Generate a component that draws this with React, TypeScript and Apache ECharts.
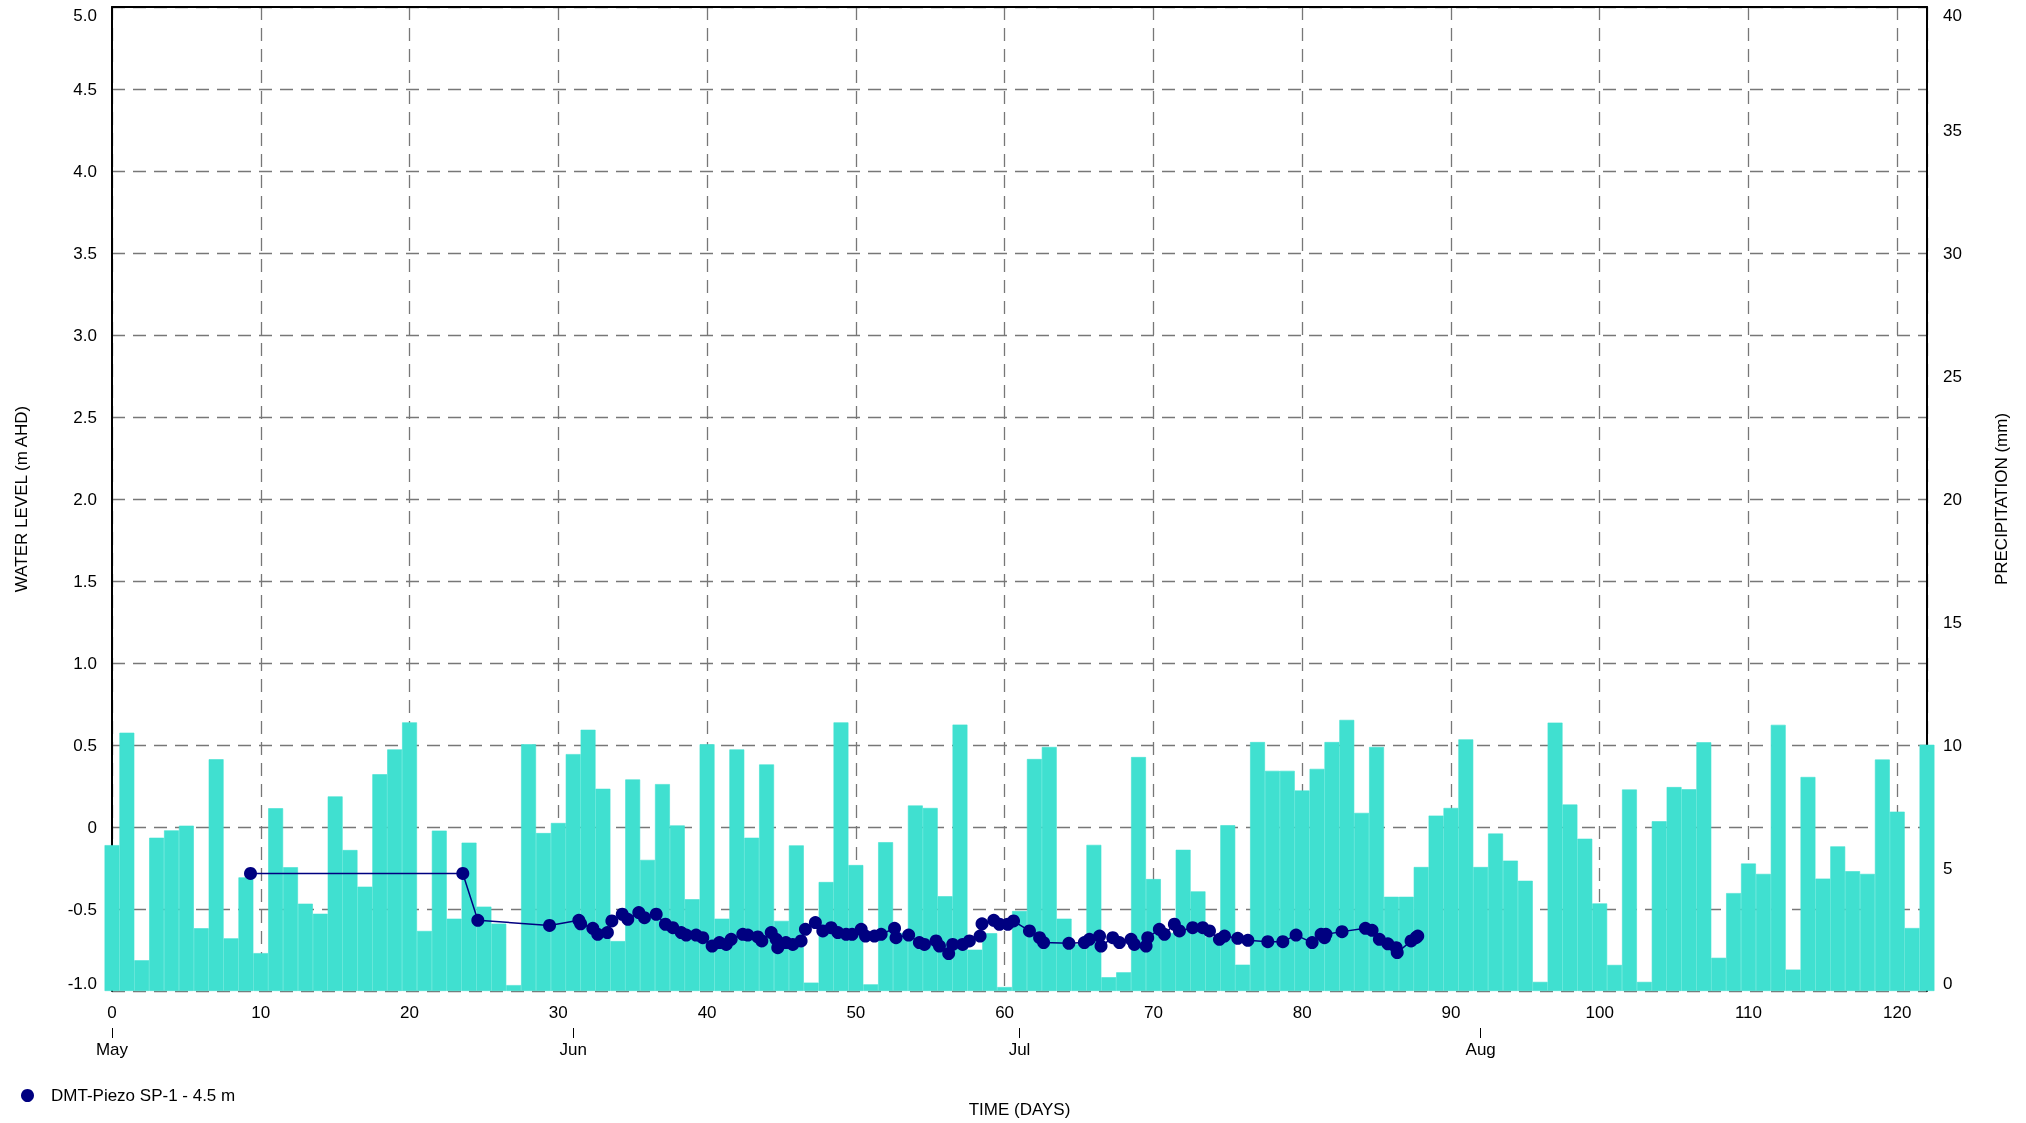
import React, { useEffect, useRef } from 'react';
import * as echarts from 'echarts';

const FONT = '"Liberation Sans", Arial, Helvetica, sans-serif';

// Daily precipitation (mm), one value per day starting at day 0 (1 May)
const precipitation = [
  5.93, 10.5, 1.25, 6.23, 6.53, 6.72, 2.55, 9.42, 2.14, 4.62,
  1.54, 7.43, 5.03, 3.55, 3.14, 7.91, 5.73, 4.24, 8.81, 9.82,
  10.92, 2.44, 6.52, 2.94, 6.03, 3.43, 2.74, 0.24, 10.03, 6.42,
  6.83, 9.63, 10.62, 8.22, 2.03, 8.6, 5.33, 8.41, 6.73, 3.73,
  10.03, 2.94, 9.82, 6.23, 9.21, 2.85, 5.92, 0.34, 4.43, 10.92,
  5.12, 0.27, 6.05, 2.36, 7.54, 7.44, 3.85, 10.83, 1.68, 2.35,
  0.16, 3.25, 9.43, 9.92, 2.94, 1.9, 5.94, 0.56, 0.76, 9.51,
  4.55, 2.36, 5.74, 4.05, 2.2, 6.74, 1.07, 10.12, 8.95, 8.95,
  8.15, 9.03, 10.12, 11.02, 7.24, 9.92, 3.83, 3.83, 5.04, 7.13,
  7.44, 10.23, 5.04, 6.4, 5.3, 4.48, 0.37, 10.91, 7.58, 6.19,
  3.56, 1.06, 8.19, 0.37, 6.9, 8.29, 8.2, 10.11, 1.35, 3.98,
  5.18, 4.76, 10.82, 0.87, 8.7, 4.57, 5.88, 4.87, 4.76, 9.41,
  7.29, 2.56, 10.01,
];

// Water level readings: time (days) and level (m AHD)
const waterLevelDays = [
  9.31, 23.58, 24.59, 29.41, 31.38, 31.5, 32.32, 32.65, 33.3, 33.6,
  34.3, 34.67, 35.41, 35.79, 36.58, 37.2, 37.7, 38.26, 38.6, 39.26,
  39.71, 40.34, 40.83, 41.29, 41.62, 42.4, 42.74, 43.41, 43.68, 44.31,
  44.64, 44.75, 45.3, 45.76, 46.32, 46.61, 47.28, 47.78, 48.34, 48.79,
  49.35, 49.75, 50.36, 50.65, 51.25, 51.7, 52.6, 52.7, 53.55, 54.27,
  54.61, 55.39, 55.62, 56.24, 56.51, 57.18, 57.63, 58.35, 58.48, 59.27,
  59.65, 60.21, 60.6, 61.67, 62.35, 62.62, 64.32, 65.36, 65.7, 66.38,
  66.48, 67.27, 67.72, 68.5, 68.72, 69.51, 69.62, 70.4, 70.74, 71.41,
  71.75, 72.64, 73.32, 73.77, 74.44, 74.78, 75.67, 76.35, 77.69, 78.7,
  79.59, 80.67, 81.27, 81.5, 81.6, 82.68, 84.25, 84.7, 85.19, 85.76,
  86.32, 86.39, 87.32, 87.65, 87.77,
];
const waterLevels = [
  -0.283, -0.283, -0.569, -0.6, -0.569, -0.59, -0.618, -0.654, -0.644, -0.573,
  -0.532, -0.563, -0.522, -0.553, -0.532, -0.593, -0.614, -0.644, -0.659, -0.659,
  -0.675, -0.726, -0.705, -0.716, -0.685, -0.654, -0.659, -0.67, -0.695, -0.644,
  -0.685, -0.736, -0.705, -0.716, -0.695, -0.624, -0.583, -0.634, -0.614, -0.644,
  -0.654, -0.654, -0.624, -0.665, -0.665, -0.654, -0.618, -0.675, -0.659, -0.705,
  -0.716, -0.695, -0.726, -0.772, -0.716, -0.716, -0.695, -0.665, -0.59, -0.569,
  -0.593, -0.593, -0.573, -0.634, -0.675, -0.705, -0.709, -0.705, -0.685, -0.665,
  -0.726, -0.675, -0.705, -0.685, -0.716, -0.726, -0.675, -0.624, -0.654, -0.593,
  -0.634, -0.614, -0.614, -0.634, -0.685, -0.665, -0.679, -0.691, -0.699, -0.699,
  -0.659, -0.705, -0.654, -0.675, -0.654, -0.638, -0.618, -0.63, -0.685, -0.712,
  -0.736, -0.766, -0.695, -0.675, -0.665,
];

const monthNames = ['May', 'Jun', 'Jul', 'Aug'];
const monthStartDays = [0, 31, 61, 92];
const seriesName = 'DMT-Piezo SP-1 - 4.5 m';

const DAY_MIN = 0;
const DAY_MAX = 122;

export default function App() {
  const ref = useRef<HTMLDivElement>(null);

  useEffect(() => {
    if (!ref.current) return;
    const chart = echarts.init(ref.current, null, { renderer: 'svg' });
    const dayCategories = Array.from({ length: DAY_MAX - DAY_MIN + 1 }, (_, i) => String(DAY_MIN + i));

    const gridLine = { color: '#777777', width: 1.3, type: [13, 8] as number[] };
    const labelBase = { fontSize: 17, color: '#000', fontFamily: FONT };

    const option: any = {
      animation: false,
      textStyle: { fontFamily: FONT, color: '#000' },
      grid: { left: 112, right: 99, top: 7, bottom: 132, containLabel: false, outerBoundsMode: 'none' },
      legend: {
        data: [seriesName],
        icon: 'circle',
        left: 21,
        top: 1087,
        padding: 0,
        itemWidth: 13,
        itemHeight: 13,
        textStyle: { fontSize: 17, color: '#000', fontFamily: FONT, padding: [0, 0, 0, 12] },
        selectedMode: false,
      },
      xAxis: [
        {
          type: 'value',
          min: DAY_MIN,
          max: DAY_MAX,
          interval: 10,
          position: 'bottom',
          name: 'TIME (DAYS)',
          nameLocation: 'middle',
          nameGap: 110,
          nameMoveOverlap: false,
          nameTextStyle: { ...labelBase },
          axisLine: { show: false, onZero: false },
          axisTick: { show: false },
          axisLabel: {
            ...labelBase,
            margin: 13,
            showMaxLabel: false,
            formatter: (v: number) => (v % 10 === 0 ? String(v) : ''),
          },
          splitLine: { show: true, lineStyle: gridLine },
        },
        {
          type: 'category',
          data: dayCategories,
          boundaryGap: false,
          position: 'bottom',
          offset: 37,
          axisLine: { show: true, onZero: false, lineStyle: { color: 'rgba(0,0,0,0)', width: 0 } },
          axisTick: {
            show: true,
            length: 10,
            interval: (index: number) => monthStartDays.includes(index),
            lineStyle: { color: '#000', width: 1 },
          },
          axisLabel: {
            ...labelBase,
            margin: 13,
            interval: (index: number) => monthStartDays.includes(index),
            formatter: (value: string) => {
              const k = monthStartDays.indexOf(Number(value));
              return k >= 0 ? monthNames[k] : '';
            },
          },
          splitLine: { show: false },
        },
        {
          type: 'value',
          min: DAY_MIN,
          max: DAY_MAX,
          position: 'top',
          axisLine: { show: true, onZero: false, lineStyle: { color: '#000', width: 2 } },
          axisTick: { show: false },
          axisLabel: { show: false },
          splitLine: { show: false },
        },
      ],
      yAxis: [
        {
          type: 'value',
          min: -1,
          max: 5,
          interval: 0.5,
          position: 'left',
          name: 'WATER LEVEL (m AHD)',
          nameLocation: 'middle',
          nameGap: 82,
          nameMoveOverlap: false,
          nameTextStyle: { ...labelBase },
          axisLine: { show: true, onZero: false, lineStyle: { color: '#000', width: 2 } },
          axisTick: { show: false },
          axisLabel: {
            ...labelBase,
            margin: 15,
            formatter: (v: number) => {
              const s = Math.abs(v) < 1e-9 ? '0' : v.toFixed(1);
              if (v >= 5) return '{t|' + s + '}';
              if (v <= -1) return '{b|' + s + '}';
              return s;
            },
            rich: {
              t: { ...labelBase, padding: [16, 0, 0, 0] },
              b: { ...labelBase, padding: [0, 0, 16, 0] },
            },
          },
          splitLine: { show: true, lineStyle: gridLine },
        },
        {
          type: 'value',
          min: 0,
          max: 40,
          interval: 5,
          position: 'right',
          name: 'PRECIPITATION (mm)',
          nameLocation: 'middle',
          nameGap: 66,
          nameMoveOverlap: false,
          nameTextStyle: { ...labelBase },
          axisLine: { show: true, onZero: false, lineStyle: { color: '#000', width: 2 } },
          axisTick: { show: false },
          axisLabel: {
            ...labelBase,
            margin: 16,
            formatter: (v: number) => {
              const s = String(v);
              if (v >= 40) return '{t|' + s + '}';
              if (v <= 0) return '{b|' + s + '}';
              return s;
            },
            rich: {
              t: { ...labelBase, padding: [16, 0, 0, 0] },
              b: { ...labelBase, padding: [0, 0, 16, 0] },
            },
          },
          splitLine: { show: false },
        },
      ],
      series: [
        {
          type: 'bar',
          name: 'Precipitation',
          xAxisIndex: 0,
          yAxisIndex: 1,
          data: precipitation.map((v, i) => [DAY_MIN + i, v]),
          barWidth: '100%',
          barCategoryGap: '0%',
          itemStyle: { color: '#40E0D0', borderColor: '#40E0D0', borderWidth: 0.6 },
          clip: false,
          silent: true,
          z: 2,
        },
        {
          type: 'line',
          name: seriesName,
          xAxisIndex: 0,
          yAxisIndex: 0,
          data: waterLevelDays.map((d, i) => [d, waterLevels[i]]),
          symbol: 'circle',
          symbolSize: 13,
          showAllSymbol: true,
          lineStyle: { color: '#000080', width: 1.5 },
          itemStyle: { color: '#000080' },
          z: 3,
        },
      ],
    };

    chart.setOption(option);
    return () => chart.dispose();
  }, []);

  return (
    <div
      ref={ref}
      style={{ position: 'fixed', left: 0, top: 0, width: 2026, height: 1123 }}
    />
  );
}
